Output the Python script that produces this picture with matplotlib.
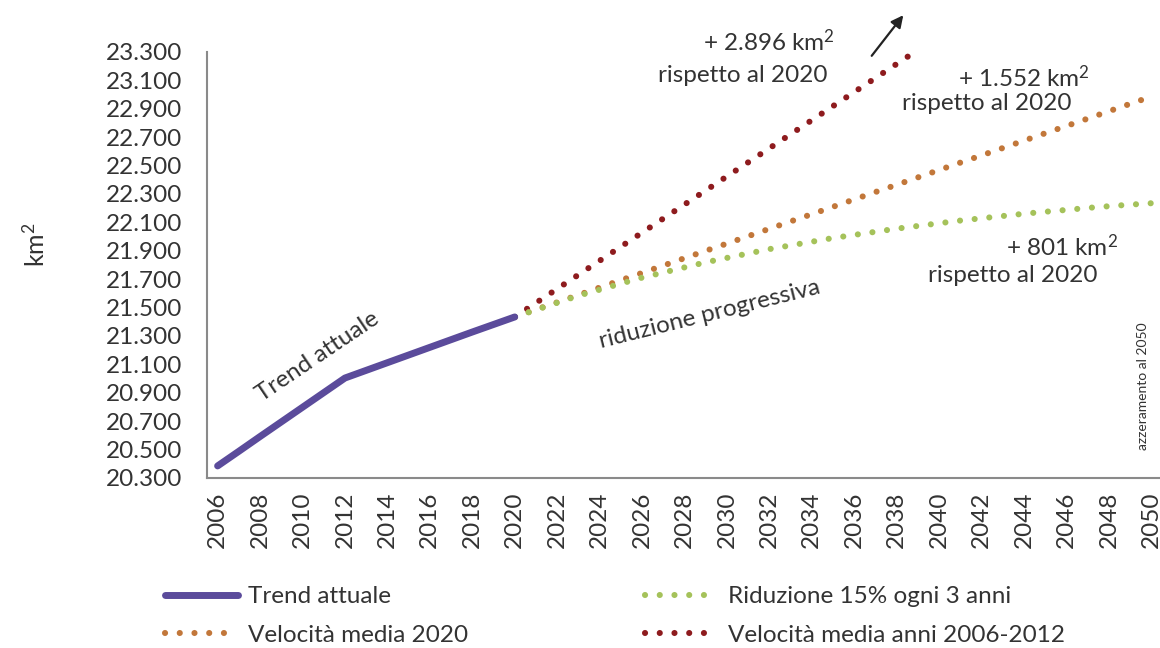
import numpy as np
import matplotlib
matplotlib.use("Agg")
import matplotlib.pyplot as plt
from matplotlib.lines import Line2D

plt.rcParams['font.family'] = ['Lato', 'DejaVu Sans']
plt.rcParams['mathtext.fontset'] = 'custom'
plt.rcParams['mathtext.rm'] = 'Lato'
plt.rcParams['mathtext.it'] = 'Lato:italic'
plt.rcParams['mathtext.bf'] = 'Lato:bold'

# dati (km2)
anni_trend = list(range(2006, 2021))
trend = [20385, 20488, 20592, 20695, 20798, 20901, 21004, 21058, 21112,
         21166, 21220, 21274, 21328, 21381, 21434]

anni_scen = list(range(2020, 2051))
vel_2020 = [21434, 21486, 21537, 21589, 21641, 21693, 21744, 21796, 21848,
            21900, 21951, 22003, 22055, 22107, 22158, 22210, 22262, 22314,
            22365, 22417, 22469, 22521, 22572, 22624, 22676, 22728, 22779,
            22831, 22883, 22935, 22986]
riduzione = [21434, 21484, 21534, 21584, 21626, 21669, 21711, 21747, 21783,
             21819, 21850, 21881, 21912, 21938, 21964, 21990, 22012, 22034,
             22056, 22075, 22094, 22113, 22129, 22145, 22161, 22175, 22188,
             22202, 22214, 22225, 22235]
vel_0612 = [21434, 21533, 21632, 21731, 21830, 21929, 22028, 22127, 22226,
            22325, 22424, 22523, 22622, 22721, 22820, 22919, 23018, 23117,
            23216, 23315, 23414, 23513, 23612, 23711, 23810, 23909, 24008,
            24107, 24206, 24305, 24404]

y_ticks = list(range(20300, 23301, 200))
x_ticks = list(range(2006, 2051, 2))

viola = '#5b4b9b'
verde = '#a5c25a'
arancio = '#c2773a'
rosso = '#8e1b1e'
grigio = '#333333'

fig = plt.figure(figsize=(11.6, 6.48), dpi=100)
ax = fig.add_axes([207/1160, 170/648, 955/1160, 426/648])

punti = dict(linewidth=4.4, linestyle=(0, (0.01, 2.4)), dash_capstyle='round')
ax.plot(anni_scen, vel_0612, color=rosso, **punti)
ax.plot(anni_scen, vel_2020, color=arancio, **punti)
ax.plot(anni_scen, riduzione, color=verde, **punti)
ax.plot(anni_trend, trend, color=viola, linewidth=5, solid_capstyle='round')

ax.set_xlim(2005.5, 2050.5)
ax.set_ylim(20300, 23300)
ax.set_xticks(x_ticks)
ax.set_xticklabels([str(a) for a in x_ticks], rotation=90, fontsize=17.5, color=grigio)
ax.set_yticks(y_ticks)
ax.set_yticklabels([f"{v:,}".replace(',', '.') for v in y_ticks], fontsize=17.5, color=grigio)
ax.tick_params(axis='y', length=0, pad=18)
ax.tick_params(axis='x', length=0, pad=10)
for s in ['top', 'right']:
    ax.spines[s].set_visible(False)
for s in ['left', 'bottom']:
    ax.spines[s].set_color('#8a8a8a')
    ax.spines[s].set_linewidth(1.5)

fig.text(35/1160, 1 - 245/648, 'km$^{2}$', rotation=90, fontsize=18, color=grigio,
         ha='center', va='center')

# annotazioni
kw = dict(fontsize=17.5, color=grigio, transform=fig.transFigure)
fig.text(835/1160, 1 - 42/648, '+ 2.896 km$^{2}$', ha='right', va='center', **kw)
fig.text(828/1160, 1 - 76/648, 'rispetto al 2020', ha='right', va='center', **kw)
fig.text(1090/1160, 1 - 78/648, '+ 1.552 km$^{2}$', ha='right', va='center', **kw)
fig.text(1072/1160, 1 - 103/648, 'rispetto al 2020', ha='right', va='center', **kw)
fig.text(1118/1160, 1 - 247/648, '+ 801 km$^{2}$', ha='right', va='center', **kw)
fig.text(1098/1160, 1 - 276/648, 'rispetto al 2020', ha='right', va='center', **kw)
fig.text(318/1160, 1 - 357/648, 'Trend attuale', rotation=34, ha='center', va='center', **kw)
fig.text(710/1160, 1 - 314/648, 'riduzione progressiva', rotation=14, ha='center', va='center', **kw)
fig.text(1143/1160, 1 - 386/648, 'azzeramento al 2050', rotation=90, ha='center',
         va='center', fontsize=10, color=grigio)
ax.annotate('', xy=(905/1160, 1 - 13/648), xytext=(870/1160, 1 - 58/648),
            xycoords='figure fraction', textcoords='figure fraction',
            arrowprops=dict(arrowstyle='-|>', color='#222222', lw=1.6, mutation_scale=18))

# legenda
handles = [
    Line2D([], [], color=viola, linewidth=5, solid_capstyle='round'),
    Line2D([], [], color=arancio, **punti),
    Line2D([], [], color=verde, **punti),
    Line2D([], [], color=rosso, **punti),
]
labels = ['Trend attuale', 'Velocità media 2020', 'Riduzione 15% ogni 3 anni',
          'Velocità media anni 2006-2012']
fig.legend(handles, labels, ncol=2, loc='upper left', bbox_to_anchor=(165/1160, 1 - 586/648),
           frameon=False, fontsize=17.5, handlelength=3.0, columnspacing=7.3,
           labelspacing=0.72, handletextpad=0.4, labelcolor=grigio, borderpad=0,
           borderaxespad=0)

fig.savefig('out.png', dpi=100)
